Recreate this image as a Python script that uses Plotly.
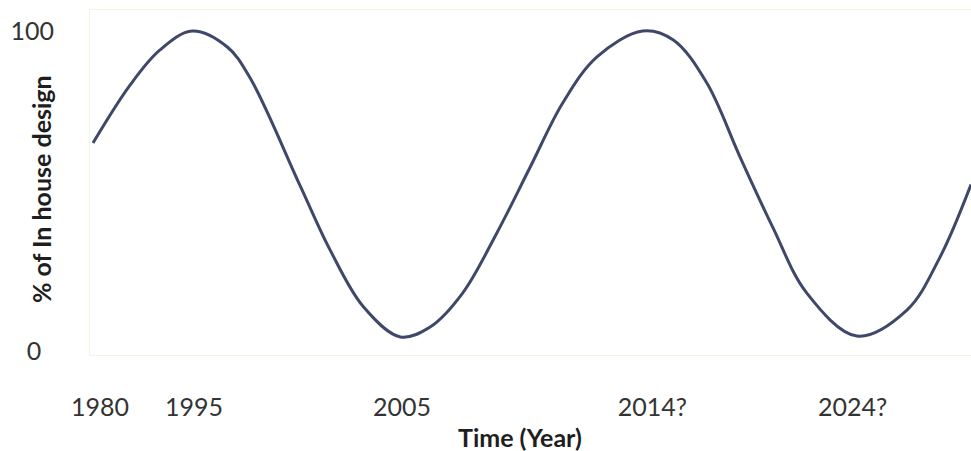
import plotly.graph_objects as go

# Position along the time axis (arbitrary, non-linear spacing of labelled years)
pos = [0, 4.2, 7.6, 11.3, 15.3, 17.9, 23.6, 27.0, 30.8, 35.0, 38.4, 42.1, 46.0,
       49.8, 53.5, 57.4, 62.6, 66.1, 69.9, 73.7, 77.4, 81.3, 87.0, 92.7, 96.5, 100]
# % of in-house design
pct = [65, 83, 94, 100, 95, 85.3, 51.6, 31.6, 13.8, 4.4, 7.5, 18.1, 36.9,
       57.5, 77.5, 91.9, 100, 97.2, 83.8, 60.6, 38.8, 18.1, 4.7, 12.8, 29.5, 52]

x_tick_pos = [0.8, 11.5, 35.2, 63.7, 86.5]
x_tick_text = ["1980", "1995", "2005", "2014?", "2024?"]
y_tick_vals = [0, 100]
y_tick_text = ["0\u00a0\u00a0", "100"]

fig = go.Figure()
fig.add_trace(go.Scatter(
    x=pos, y=pct, mode="lines",
    line=dict(color="#3f4868", width=3, shape="spline", smoothing=1.0),
    showlegend=False, hoverinfo="skip",
))

fig.update_layout(
    width=971, height=451,
    margin=dict(l=90, r=0, t=10, b=96),
    paper_bgcolor="white", plot_bgcolor="white",
    font=dict(family="Lato, Open Sans, sans-serif", color="#333333"),
    xaxis=dict(
        range=[-0.34, 100], tickvals=x_tick_pos, ticktext=x_tick_text,
        showgrid=False, zeroline=False, showline=True, linecolor="#f4f4e2",
        linewidth=1, mirror=True, ticks="", tickfont=dict(size=25, color="#333333"),
        ticklabelstandoff=30, automargin=False,
    ),
    yaxis=dict(
        range=[-1.25, 106.56], tickvals=y_tick_vals, ticktext=y_tick_text,
        showgrid=False, zeroline=False, showline=True, linecolor="#f4f4e2",
        linewidth=1, mirror=True, ticks="", tickfont=dict(size=25, color="#333333"),
        ticklabelstandoff=30, automargin=False,
    ),
    annotations=[
        dict(text="<b>% of In house design</b>", textangle=-90,
             xref="paper", yref="paper", x=-0.0556, y=0.481, xanchor="center", yanchor="middle",
             showarrow=False, font=dict(size=25, color="#1e1e1e")),
        dict(text="<b>Time (Year)</b>",
             xref="paper", yref="paper", x=0.488, y=-0.238, xanchor="center", yanchor="middle",
             showarrow=False, font=dict(size=25, color="#1e1e1e")),
    ],
)

fig.write_html(
    "out.html",
    config={"displayModeBar": False},
    post_script="document.body.style.margin='0';document.body.style.overflow='hidden';",
)
